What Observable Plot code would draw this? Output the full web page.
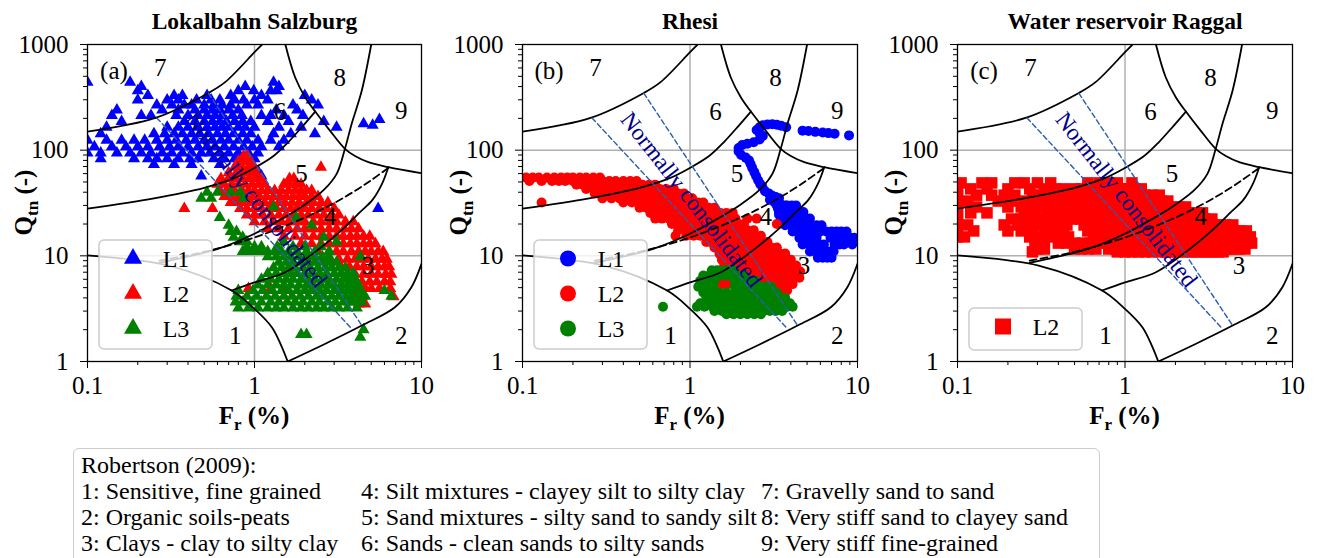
<!DOCTYPE html>
<html><head><meta charset="utf-8">
<script src="https://cdn.jsdelivr.net/npm/d3@7"></script>
<script src="https://cdn.jsdelivr.net/npm/@observablehq/plot@0.6"></script>
<style>
body{margin:0;background:#fff;}
#wrap{position:relative;width:1317px;height:558px;overflow:hidden;background:#fff;font-family:"Liberation Serif","Times New Roman",Times,serif;}
.panel{position:absolute;top:0;}
#legend{position:absolute;left:73px;top:448px;width:1027px;height:124px;border:1.5px solid #cccccc;border-radius:6px;box-sizing:border-box;font-size:24px;line-height:26px;color:#000;background:#fff;}
#legend div{position:absolute;white-space:nowrap;}
</style></head><body>
<div id="wrap"></div>
<script>
const FONT = "'Liberation Serif','Times New Roman',Times,serif";
const COLORS = {L1: "#0000ff", L2: "#ff0000", L3: "#008000"};
const NC_COLOR = "#2a5db0";
const NC_TEXT = "#00008b";

// axis ticks
const xMajor = [0.1, 1, 10];
const xMinor = [0.2,0.3,0.4,0.5,0.6,0.7,0.8,0.9,2,3,4,5,6,7,8,9];
const yMajor = [1, 10, 100, 1000];
const yMinor = [2,3,4,5,6,7,8,9,20,30,40,50,60,70,80,90,200,300,400,500,600,700,800,900];

// Robertson chart boundaries [Fr, Qtn]
const bZone1 = [[0.1,10.1],[0.305,8.1],[0.73,4.7],[1.0,3.15],[1.27,2.11],[1.45,1.4],[1.58,1.0]];
const bZone2 = [[1.58,1.0],[2.6,1.45],[4.39,2.19],[6.93,3.26],[8.7,5.05],[10,8.4]];
const b76 = [[0.1,150],[0.255,202],[0.527,346],[0.667,440],[1.0,845],[1.11,1000]];
const b65 = [[0.1,28],[0.25,35],[0.5,44],[0.75,54],[1.0,68],[1.3,88],[1.6,120],[1.95,170],[2.31,232]];
const b8 = [[1.53,1000],[1.75,490],[2.01,317],[2.31,232],[2.83,153],[3.48,103],[4.0,88],[4.81,77],[6.33,69],[10,60.5]];
const b9 = [[0.27,8.6],[0.385,9.7],[0.608,11.7],[1.0,16.2],[1.43,22],[2.0,30.5],[2.6,42],[3.11,60],[3.48,103],[3.82,178],[4.39,367],[5.0,1000]];
const b34 = [[0.73,4.7],[1.0,5.6],[1.53,7.0],[2.5,12],[3.48,18.7],[4.3,26],[5.1,34],[5.8,48],[6.33,69]];
const bIc26 = [[0.27,9.0],[0.5,10.9],[1.0,14.9],[2.0,23],[3.0,31.6],[4.0,41.2],[5.0,52],[6.33,68]];
const nc1 = [[0.26,202],[3.82,2.04]];
const nc2 = [[0.53,346],[4.39,2.19]];

// zone labels
const zoneText = ["1","2","3","4","5","6","7","8","9"];
const zoneF = [0.766, 7.57, 4.79, 2.83, 1.91, 1.42, 0.273, 3.24, 7.57];
const zoneQ = [1.76, 1.76, 8.1, 23.2, 60, 229, 593, 477, 237];

// ---- Panel (a) Lokalbahn Salzburg : rows [Qtn, Fr...] ----
const aL1rows = [
[440,0.1,0.18,1.3],
[400,0.21,0.88,1.4],
[365,0.2,0.8,0.99,1.25,1.36],
[330,0.23,0.33,0.37,0.52,0.72,1.1,2.0],
[298,0.2,0.3,0.35,0.45,0.55,0.62,0.76,0.86,1.0,1.2,2.2],
[268,0.26,0.32,0.38,0.42,0.5,0.57,0.64,0.72,0.9,1.05,1.7,2.4],
[240,0.15,0.28,0.35,0.44,0.5,0.56,0.62,0.7,0.8,1.35,1.8],
[213,0.14,0.21,0.24,0.34,0.4,0.46,0.52,0.58,0.64,0.74,0.84,1.1,1.25,1.5,1.95],
[187,0.16,0.38,0.44,0.5,0.56,0.62,0.68,0.76,0.85,0.95,1.2,1.6,2.6],
[165,0.13,0.3,0.35,0.4,0.46,0.52,0.58,0.64,0.7,0.8,0.88,1.0,1.4,1.9,3.1],
[143,0.12,0.25,0.29,0.33,0.37,0.42,0.47,0.53,0.6,0.67,0.75,0.85,0.95,1.3,1.65,2.3],
[124,0.1,0.13,0.16,0.19,0.22,0.26,0.3,0.34,0.39,0.44,0.5,0.56,0.63,0.7,0.8,0.9,1.05,1.25,1.5],
[108,0.11,0.14,0.17,0.2,0.23,0.27,0.31,0.35,0.4,0.46,0.52,0.58,0.66,0.75,0.86,0.97,1.1,1.4],
[94,0.1,0.12,0.15,0.18,0.21,0.24,0.28,0.32,0.37,0.42,0.48,0.54,0.62,0.7,0.8,0.92,1.05],
[83,0.12,0.19,0.23,0.26,0.3,0.35,0.41,0.46,0.57,0.66,0.76,0.88,1.0],
[73,0.25,0.33,0.42,0.62,0.8,0.95],
[63,0.85,0.95,1.05],
[57,0.48,1.1]
];
const aL1pairs = [[4.5,178],[5.1,172],[5.6,195],[5.5,28]];
const aL2rows = [
[88,0.86,0.91],
[78,0.8,0.88,0.95],
[69,0.76,0.84,0.92,1.0,2.5],
[61,0.7,0.78,0.86,0.94,1.02],
[54,0.63,0.7,0.77,0.85,0.93,1.01,1.1,1.62,1.72],
[47.5,0.6,0.66,0.73,0.8,0.88,0.97,1.06,1.15,1.5,1.62,1.76,1.9],
[41.5,0.62,0.68,0.76,0.84,0.92,1.0,1.1,1.2,1.32,1.45,1.6,1.75,1.9,2.05,2.2],
[36.5,0.66,0.72,0.8,0.88,0.97,1.07,1.18,1.3,1.42,1.55,1.7,1.85,2.0,2.2,2.4],
[32,0.72,0.78,0.86,0.95,1.05,1.15,1.27,1.4,1.52,1.68,1.85,2.05,2.25,2.5,2.75],
[28,0.38,0.56,0.82,0.9,1.0,1.1,1.22,1.35,1.5,1.65,1.8,2.0,2.2,2.45,2.7,3.0],
[24.3,0.9,1.0,1.12,1.25,1.4,1.55,1.72,1.9,2.1,2.35,2.6,2.9,3.2],
[21,1.0,1.15,1.3,1.45,1.6,1.8,2.0,2.25,2.5,2.8,3.1,3.5,3.9],
[18,1.2,1.4,1.6,1.8,2.0,2.25,2.5,2.8,3.1,3.45,3.8,4.2],
[15.3,1.5,1.75,2.0,2.25,2.5,2.8,3.1,3.4,3.75,4.1,4.5,4.9],
[13,1.9,2.2,2.5,2.8,3.1,3.4,3.75,4.1,4.5,4.9,5.3],
[11,2.4,2.8,3.1,3.4,3.8,4.2,4.6,5.0,5.5,5.9],
[9.3,2.8,3.2,3.6,4.0,4.4,4.8,5.3,5.8,6.2],
[7.9,3.3,3.7,4.1,4.5,5.0,5.5,6.0,6.4],
[6.7,3.6,4.0,4.5,5.0,5.5,6.1,6.6],
[5.7,3.9,4.4,4.9,5.4,6.0,6.5],
[4.9,0.92,1.25,1.5,4.2,4.6,5.0,5.6,6.5],
[4.1,4.0,4.4,6.8],
[3.5,4.2,4.6]
];
const aL3rows = [
[40,0.52,0.6,0.72,0.82],
[35,0.48,0.55,0.86],
[29,1.3],
[23,0.62,1.78],
[19.5,0.7,2.2],
[17,0.72,0.78],
[15,0.75,0.85,2.6],
[13.6,0.82,0.9,1.5,3.1],
[12.2,0.9,1.0,1.1,1.37,1.7,2.0,2.5],
[11,0.85,0.92,1.0,1.1,1.2,1.32,1.45,1.6,1.8,2.05,2.3,2.8],
[9.8,1.2,1.35,1.5,1.65,1.85,2.05,2.3,2.55,2.8,4.3],
[8.7,1.4,1.55,1.7,1.9,2.1,2.3,2.55,2.8,3.1],
[7.7,1.3,1.45,1.6,1.75,1.95,2.15,2.4,2.65,2.9,3.2,3.5],
[6.8,1.2,1.35,1.5,1.65,1.8,2.0,2.2,2.45,2.7,3.0,3.3,3.6,3.9],
[6.0,1.1,1.25,1.4,1.55,1.7,1.9,2.1,2.3,2.55,2.8,3.1,3.4,3.7,4.0],
[5.3,1.05,1.2,1.35,1.5,1.65,1.85,2.05,2.25,2.5,2.75,3.0,3.3,3.6,3.9,4.2],
[4.7,0.8,0.98,1.12,1.28,1.45,1.6,1.8,2.0,2.2,2.45,2.7,3.0,3.3,3.6,3.9,4.3,6.0],
[4.15,0.78,0.9,1.03,1.18,1.33,1.5,1.68,1.88,2.1,2.35,2.6,2.9,3.2,3.5,3.8,4.2,4.6,6.6],
[3.65,0.77,0.85,0.97,1.1,1.25,1.4,1.57,1.75,1.95,2.2,2.45,2.75,3.05,3.4,3.7,4.0,4.4],
[3.2,0.8,0.92,1.05,1.2,1.35,1.5,1.7,1.9,2.1,2.35,2.6,2.9,3.2,3.6,4.1],
[2.0,4.5],
[1.8,1.9,2.05],
[1.7,4.3]
];

// ---- Panel (b) Rhesi ----
const bL1pairs = [
[2.72,172],[2.9,175],[3.1,176],[3.3,174],[3.5,170],[3.75,165],[4.7,153],[5.1,152],[5.6,149],[6.2,147],[6.7,145],[7.3,143],[8.9,138],
[2.6,165],[2.5,155],[2.6,145],[2.72,136],[2.6,126],[2.4,119],[2.2,115],[2.05,112],[1.95,105],[1.95,97],[2.02,90],[2.15,85],[2.25,80],[2.3,74],[2.35,68],[2.42,62],[2.48,57],[2.55,52],[2.62,48],[2.7,45],
[2.8,41],[2.95,39],[3.1,37],[3.25,36],[3.4,35],[3.0,34],[3.2,32],[3.45,31],[3.7,30],[3.95,29],[3.35,28],[3.6,27],[3.9,26],[4.2,25],[4.5,24],[3.4,24.5]
];
const bL1rows = [
[30,3.3,3.55,3.8,4.05,4.3],
[26,3.4,3.65,3.9,4.15,4.45,4.75],
[22.5,3.5,3.75,4.0,4.3,4.6,4.9,5.2],
[19.5,3.7,4.0,4.3,4.65,5.0,5.35,5.7,6.1],
[17,4.1,4.45,4.8,5.2,5.6,6.0,6.5,7.0,7.5,8.0,8.6],
[14.8,4.5,4.85,5.25,5.7,6.9,7.4,7.9,8.5,9.1,9.6],
[12.8,4.7,5.1,5.5,5.9,6.3,7.3,7.8,8.3,9.3],
[11,5.2,5.6,6.0,6.4,6.8,7.2],
[9.6,5.8,6.2,6.6,7.0]
];
const bL2rows = [
[55,0.105,0.115,0.125,0.14,0.155,0.17,0.185,0.2,0.22,0.24,0.265,0.29],
[51,0.11,0.13,0.15,0.165,0.18,0.2,0.22,0.245,0.27,0.3,0.33,0.36,0.4,0.44,0.48],
[47,0.21,0.23,0.26,0.29,0.32,0.35,0.39,0.43,0.47,0.52,0.57,0.62],
[43,0.24,0.27,0.3,0.33,0.37,0.41,0.45,0.5,0.55,0.6,0.66,0.72,0.8],
[39,0.27,0.3,0.33,0.37,0.41,0.45,0.5,0.55,0.6,0.66,0.72,0.78,0.85,0.92],
[35,0.3,0.34,0.38,0.42,0.46,0.51,0.56,0.62,0.68,0.74,0.8,0.87,0.95,1.03],
[32,0.13,0.4,0.45,0.5,0.55,0.61,0.67,0.73,0.8,0.87,0.95,1.03,1.12,1.2],
[28.5,0.5,0.55,0.6,0.66,0.72,0.79,0.86,0.94,1.02,1.1,1.2,1.3,1.4],
[25.5,0.58,0.65,0.72,0.79,0.86,0.94,1.02,1.1,1.2,1.3,1.4,1.52,1.65,1.8],
[22.5,0.62,0.68,0.75,0.82,0.9,0.98,1.07,1.16,1.26,1.37,1.48,1.6,1.73,1.87,2.2,2.5],
[20,0.78,0.85,0.93,1.0,1.1,1.2,1.3,1.42,1.54,1.67,1.8,1.95,2.1,3.3],
[17.5,0.85,0.95,1.05,1.15,1.25,1.36,1.48,1.6,1.74,1.88,2.03,2.2,2.4],
[15.5,0.82,0.95,1.05,1.15,1.25,1.38,1.52,1.66,1.8,1.95,2.1,2.27,2.45,2.65],
[13.5,1.25,1.32,1.4,1.55,1.7,1.85,2.0,2.15,2.32,2.5,2.7,2.9],
[12,1.4,1.5,1.65,1.8,1.95,2.1,2.27,2.45,2.65,2.85,3.05,3.3],
[10.5,1.5,1.62,1.75,1.9,2.05,2.2,2.37,2.55,2.75,2.95,3.2,3.45,3.7],
[9.2,1.55,1.68,1.82,1.97,2.13,2.3,2.48,2.67,2.87,3.08,3.3,3.55,3.8,4.0],
[8.1,1.6,1.75,1.9,2.05,2.22,2.4,2.6,2.8,3.0,3.22,3.45,3.7,4.0,4.3],
[7.1,1.65,1.8,1.97,2.15,2.35,2.55,2.75,2.97,3.2,3.45,3.7,4.0,4.3,4.55],
[6.2,1.5,1.62,1.75,1.95,2.15,2.35,2.57,2.8,3.05,3.3,3.55,3.85,4.15,4.5],
[5.4,1.55,1.68,2.5,2.75,3.0,3.25,3.5,3.8,4.1],
[4.7,2.9,3.2,3.5,3.8]
];
const bL3rows = [
[7.3,1.35,1.45,1.58,1.7,1.82],
[6.5,1.2,1.3,1.42,1.55,1.68,1.82,1.95,2.1],
[5.8,1.15,1.28,1.4,1.85,2.0,2.15,2.3,2.45],
[5.1,1.12,1.25,1.38,1.85,1.95,2.1,2.28,2.45,2.65,2.85,3.05],
[4.5,1.2,1.35,1.5,1.65,1.85,2.05,2.25,2.45,2.65,2.85,3.05,3.3],
[4.0,1.25,1.4,1.55,1.72,1.9,2.1,2.3,2.5,2.72,2.95,3.2,3.45,3.7],
[3.55,1.15,1.3,1.45,1.6,1.78,1.97,2.17,2.38,2.6,2.85,3.1,3.35,3.65,3.95],
[3.3,0.69,1.1,1.22,1.36,1.52,1.68,1.86,2.05,2.25,2.47,2.7,2.95,3.2,3.5,3.8,4.1],
[3.0,1.4,1.55,1.72,1.9,2.1,2.3,2.52,2.75,3.0,3.25,3.55],
[2.8,1.65,1.82,2.0,2.2,2.42,2.65]
];

// ---- Panel (c) Water reservoir Raggal ----
const cL2rows = [
[49,0.105,0.14,0.16,0.22,0.25,0.3,0.36,0.6,0.7,0.8,0.9,1.1],
[43,0.1,0.12,0.15,0.2,0.27,0.33,0.38,0.43,0.5,0.55,0.62,0.68,0.75,0.85,0.95,1.05,1.15,1.25],
[37.5,0.1,0.13,0.16,0.19,0.22,0.28,0.31,0.35,0.4,0.45,0.5,0.56,0.63,0.7,0.78,0.87,0.97,1.08,1.2,1.32,1.45,1.6],
[33,0.1,0.115,0.175,0.21,0.25,0.29,0.33,0.38,0.43,0.48,0.54,0.6,0.67,0.74,0.82,0.9,1.0,1.1,1.22,1.35,1.5,1.65,1.8],
[29,0.1,0.13,0.2,0.24,0.27,0.31,0.36,0.41,0.46,0.52,0.58,0.65,0.72,0.8,0.88,0.97,1.07,1.18,1.3,1.43,1.57,1.72,1.9,2.1,2.3],
[25.5,0.1,0.12,0.15,0.25,0.29,0.34,0.39,0.44,0.5,0.56,0.62,0.69,0.76,0.84,0.93,1.03,1.13,1.25,1.37,1.5,1.65,1.8,2.0,2.2,2.4,2.65,2.9],
[22.3,0.1,0.21,0.24,0.28,0.32,0.37,0.42,0.48,0.54,0.6,0.67,0.74,0.82,0.9,1.0,1.1,1.2,1.32,1.45,1.6,1.75,1.92,2.1,2.3,2.5,2.75,3.0,3.3],
[19.6,0.1,0.115,0.19,0.23,0.26,0.3,0.35,0.4,0.45,0.57,0.64,0.71,0.78,0.86,0.95,1.05,1.15,1.27,1.4,1.53,1.68,1.84,2.0,2.2,2.4,2.6,2.85,3.1,3.4,3.7,4.0,4.4],
[17.2,0.1,0.125,0.2,0.24,0.28,0.33,0.38,0.43,0.6,0.67,0.75,0.83,0.92,1.02,1.12,1.23,1.35,1.48,1.62,1.77,1.93,2.1,2.3,2.5,2.72,2.95,3.2,3.5,3.8,4.1,4.5,4.9,5.3],
[15.1,0.1,0.11,0.27,0.31,0.36,0.41,0.46,0.65,0.72,0.8,0.88,0.97,1.07,1.18,1.3,1.42,1.55,1.7,1.85,2.0,2.2,2.4,2.6,2.85,3.1,3.4,3.7,4.0,4.4,4.8,5.2,5.6],
[13.2,0.29,0.33,0.4,0.45,0.5,0.56,0.62,0.69,0.77,0.85,0.93,1.02,1.12,1.23,1.35,1.48,1.62,1.77,1.93,2.1,2.3,2.5,2.73,2.97,3.23,3.5,3.8,4.1,4.5,4.9,5.3,5.7],
[11.6,0.3,0.33,0.5,0.55,0.6,0.67,0.8,0.88,0.97,1.07,1.17,1.28,1.4,1.53,1.67,1.82,1.98,2.15,2.35,2.55,2.77,3.0,3.25,3.5,3.8,4.1,4.4,4.8,5.2],
[10.9,0.28,0.9,1.0,1.1,1.2,1.32,1.45,1.6,1.75,1.9,2.07,2.25,2.45,2.65,2.87,3.1,3.35,3.6,3.85]
];

// bottom legend text
const legendTitle = "Robertson (2009):";
const legendCols = [
 ["1: Sensitive, fine grained","2: Organic soils-peats","3: Clays - clay to silty clay"],
 ["4: Silt mixtures - clayey silt to silty clay","5: Sand mixtures - silty sand to sandy silt","6: Sands - clean sands to silty sands"],
 ["7: Gravelly sand to sand","8: Very stiff sand to clayey sand","9: Very stiff fine-grained"]
];
const legendColX = [7, 287, 687];

// ---------- helpers ----------
const fromRows = rows => rows.flatMap(([q, ...fs]) => fs.map(f => ({f, q})));
const fromPairs = pairs => pairs.map(([f, q]) => ({f, q}));
const zones = zoneText.map((t, i) => ({t, f: zoneF[i], q: zoneQ[i]}));

const panels = [
 {left: 0, width: 435, mr: 14, title: "Lokalbahn Salzburg", tag: "(a)", symbol: "triangle", r: 4.5,
  series: [["L1", fromRows(aL1rows).concat(fromPairs(aL1pairs))], ["L2", fromRows(aL2rows)], ["L3", fromRows(aL3rows)]],
  legTop: 240, legH: 109},
 {left: 435, width: 435, mr: 13, title: "Rhesi", tag: "(b)", symbol: "circle", r: 5,
  series: [["L1", fromPairs(bL1pairs).concat(fromRows(bL1rows))], ["L2", fromRows(bL2rows)], ["L3", fromRows(bL3rows)]],
  legTop: 240, legH: 109},
 {left: 870, width: 447, mr: 25, title: "Water reservoir Raggal", tag: "(c)", symbol: "square", r: 6.5,
  series: [["L2", fromRows(cL2rows)]],
  legTop: 308, legH: 42}
];

const ML = 87, MT = 44, MB = 79, H = 440;
const wrap = document.getElementById("wrap");
const lineOpts = {x: d => d[0], y: d => d[1], stroke: "black", strokeWidth: 1.8, curve: "catmull-rom", clip: true};

for (const p of panels) {
  const marks = [
    Plot.gridX({ticks: [1], stroke: "#b0b0b0", strokeOpacity: 1, strokeWidth: 1.5}),
    Plot.gridY({ticks: [10, 100], stroke: "#b0b0b0", strokeOpacity: 1, strokeWidth: 1.5}),
    ...p.series.map(([name, data]) => Plot.dot(data, {x: "f", y: "q", symbol: p.symbol, r: p.r, fill: COLORS[name], stroke: "none", clip: true})),
    ...[bZone1, bZone2, b76, b65, b8, b9, b34].map(b => Plot.line(b, lineOpts)),
    Plot.line(bIc26, {...lineOpts, strokeDasharray: "7,4"}),
    Plot.line(nc1, {x: d => d[0], y: d => d[1], stroke: NC_COLOR, strokeWidth: 1.4, strokeDasharray: "5,3", clip: true}),
    Plot.line(nc2, {x: d => d[0], y: d => d[1], stroke: NC_COLOR, strokeWidth: 1.4, strokeDasharray: "5,3", clip: true}),
    Plot.text(zones, {x: "f", y: "q", text: "t", fontSize: 25, fontFamily: FONT, fill: "black"}),
    Plot.text([p.tag], {x: [0.144], y: [567], text: d => d, fontSize: 25, fontFamily: FONT, fill: "black"}),
    Plot.text(["Normally consolidated"], {x: [1.02], y: [34], text: d => d, rotate: 52, fontSize: 23.5, fontFamily: FONT, fill: NC_TEXT}),
    Plot.text([p.title], {frameAnchor: "top", lineAnchor: "middle", dy: -23, text: d => d, fontSize: 23.5, fontWeight: "bold", fontFamily: FONT, fill: "black"}),
    Plot.axisX({ticks: xMinor, tickSize: 4, tickFormat: () => "", label: null}),
    Plot.axisX({ticks: xMajor, tickSize: 7, tickPadding: 8, tickFormat: d => String(d), fontSize: 25, fontFamily: FONT, label: null}),
    Plot.axisY({ticks: yMinor, tickSize: 4, tickFormat: () => "", label: null}),
    Plot.axisY({ticks: yMajor, tickSize: 7, tickPadding: 12, tickFormat: d => String(d), fontSize: 25, fontFamily: FONT, label: null}),
    Plot.frame({stroke: "black", strokeWidth: 1.3})
  ];
  const svg = Plot.plot({
    width: p.width, height: H,
    marginLeft: ML, marginRight: p.mr, marginTop: MT, marginBottom: MB,
    x: {type: "log", domain: [0.1, 10]},
    y: {type: "log", domain: [1, 1000]},
    style: {fontFamily: FONT, fontSize: "25px", color: "black", background: "white"},
    marks
  });
  const s = d3.select(svg);
  const cx = ML + (p.width - ML - p.mr) / 2;
  // y label
  const yl = s.append("text").attr("transform", `translate(32,${(MT + H - MB) / 2}) rotate(-90)`)
    .attr("text-anchor", "middle").attr("font-family", FONT).attr("font-weight", "bold").attr("font-size", 25).attr("fill", "black");
  yl.append("tspan").text("Q");
  yl.append("tspan").attr("font-size", 17).attr("dy", 6).text("tn");
  yl.append("tspan").attr("dy", -6).text(" (-)");
  // x label
  const xl = s.append("text").attr("x", cx).attr("y", 424)
    .attr("text-anchor", "middle").attr("font-family", FONT).attr("font-weight", "bold").attr("font-size", 25).attr("fill", "black");
  xl.append("tspan").text("F");
  xl.append("tspan").attr("font-size", 17).attr("dy", 6).text("r");
  xl.append("tspan").attr("dy", -6).text(" (%)");
  // in-panel legend
  const g = s.append("g");
  g.append("rect").attr("x", ML + 12).attr("y", p.legTop).attr("width", 113).attr("height", p.legH)
    .attr("rx", 5).attr("fill", "white").attr("fill-opacity", 0.8).attr("stroke", "#cccccc").attr("stroke-width", 1.5);
  const symType = {triangle: [d3.symbolTriangle, 140], circle: [d3.symbolCircle, 201], square: [d3.symbolSquare, 256]}[p.symbol];
  p.series.forEach(([name], i) => {
    const cy = p.legTop + 18.5 + i * 35;
    g.append("path").attr("d", d3.symbol(symType[0], symType[1])()).attr("transform", `translate(${ML + 46},${cy})`).attr("fill", COLORS[name]);
    g.append("text").attr("x", ML + 89).attr("y", cy).attr("dy", "0.35em").attr("font-family", FONT).attr("font-size", 24).attr("fill", "black").text(name);
  });
  const div = document.createElement("div");
  div.className = "panel";
  div.style.left = p.left + "px";
  div.appendChild(svg);
  wrap.appendChild(div);
}

// bottom legend
const leg = document.createElement("div");
leg.id = "legend";
const t0 = document.createElement("div");
t0.style.left = "7px"; t0.style.top = "3px"; t0.textContent = legendTitle;
leg.appendChild(t0);
legendCols.forEach((col, ci) => {
  col.forEach((txt, ri) => {
    const d = document.createElement("div");
    d.style.left = legendColX[ci] + "px";
    d.style.top = (29 + ri * 26) + "px";
    d.textContent = txt;
    leg.appendChild(d);
  });
});
wrap.appendChild(leg);
</script>
</body></html>
